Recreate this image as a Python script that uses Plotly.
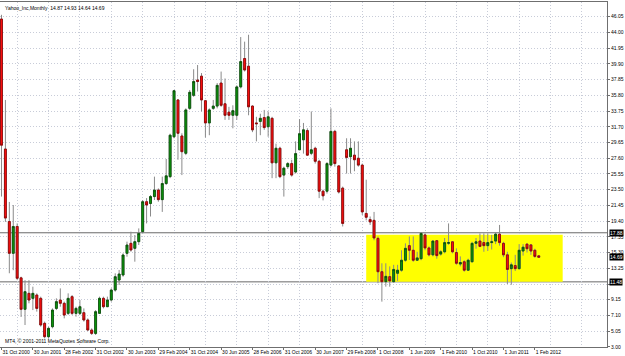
import plotly.graph_objects as go

# ---------------- data (Yahoo_Inc, Monthly, Oct 2000 .. Mar 2012) ----------------
opens = [
    45.75, 28.8, 19.35, 15.2, 18.7, 12.0, 7.9, 9.98, 9.33, 9.76,
    9.33, 6.07, 4.33, 5.63, 8.02, 9.11, 8.68, 7.37, 9.55, 7.37,
    7.37, 7.46, 6.51, 5.2, 4.76, 7.37, 9.33, 8.24, 9.11, 10.41,
    11.72, 12.37, 15.2, 16.5, 15.85, 16.72, 18.02, 21.93, 21.7, 22.6,
    23.45, 22.2, 24.3, 25.2, 30.4, 35.2, 30.5, 28.24, 34.1, 35.8,
    37.8, 38.3, 35.1, 32.2, 34.1, 34.4, 37.4, 34.7, 33.6, 33.2,
    33.2, 36.9, 40.6, 39.6, 34.4, 32.2, 32.4, 32.9, 31.7, 32.8,
    27.0, 28.9, 25.4, 26.5, 26.9, 25.8, 28.7, 30.0, 31.2, 28.24,
    28.9, 27.2, 23.3, 23.3, 26.7, 31.1, 26.6, 23.7, 28.7, 27.8,
    28.0, 27.6, 26.7, 20.4, 19.6, 19.5, 17.15, 12.8, 11.5, 12.16,
    11.5, 12.6, 13.0, 14.3, 16.2, 15.6, 14.3, 14.5, 17.6, 15.9,
    15.0, 16.85, 15.1, 15.4, 16.5, 16.7, 15.3, 13.8, 14.1, 13.0,
    14.1, 16.5, 16.8, 16.6, 16.2, 16.6, 16.8, 17.7, 16.5, 15.0,
    13.2, 13.6, 13.2, 15.5, 16.4, 16.3, 15.6, 14.87,
]
highs = [
    46.3, 35.2, 21.9, 21.5, 19.1, 12.15, 11.7, 11.7, 10.85, 9.98,
    9.55, 6.3, 5.63, 8.02, 9.33, 10.63, 8.9, 9.98, 9.76, 8.24,
    9.11, 8.02, 6.72, 5.42, 7.8, 9.55, 9.55, 9.55, 10.63, 12.59,
    13.03, 15.2, 16.72, 18.02, 17.59, 18.45, 22.15, 22.4, 22.8, 25.2,
    23.67, 25.2, 27.5, 30.8, 36.5, 35.3, 30.85, 34.1, 36.5, 39.2,
    39.75, 38.7, 35.2, 34.1, 35.2, 37.4, 38.9, 38.0, 34.3, 34.5,
    37.1, 43.4, 42.8, 43.7, 34.5, 33.0, 33.4, 33.9, 33.7, 33.0,
    29.5, 29.1, 26.5, 27.1, 27.4, 29.8, 32.7, 32.2, 31.5, 33.7,
    29.1, 27.4, 23.5, 27.1, 34.1, 31.3, 26.7, 23.9, 30.2, 30.2,
    29.8, 29.8, 26.9, 24.8, 20.0, 20.6, 17.4, 13.9, 13.9, 13.5,
    13.7, 13.7, 15.6, 16.5, 17.4, 17.4, 15.4, 17.9, 17.8, 16.1,
    16.9, 16.9, 15.6, 17.2, 19.1, 16.8, 15.85, 14.8, 14.3, 14.5,
    16.7, 17.2, 17.8, 17.8, 17.8, 17.6, 17.9, 18.9, 16.7, 15.4,
    14.0, 15.0, 16.4, 16.4, 16.5, 16.4, 15.8, 14.93,
]
lows = [
    22.6, 19.3, 12.6, 13.0, 11.7, 6.9, 5.85, 8.68, 7.8, 7.6,
    5.63, 4.11, 4.11, 5.42, 7.8, 8.24, 6.72, 7.15, 7.15, 6.94,
    7.15, 6.3, 5.1, 4.55, 4.55, 7.37, 8.02, 8.24, 8.9, 10.2,
    11.07, 12.15, 14.76, 15.41, 14.11, 16.28, 17.8, 19.1, 20.0, 22.15,
    21.93, 20.6, 24.1, 25.0, 30.2, 27.4, 25.4, 28.0, 33.9, 35.6,
    36.3, 33.7, 30.3, 30.6, 33.9, 34.1, 34.3, 32.6, 32.6, 31.5,
    32.6, 36.7, 38.9, 33.2, 31.0, 29.8, 30.6, 31.3, 30.4, 25.0,
    25.0, 25.0, 22.6, 26.2, 25.2, 25.6, 28.7, 28.2, 27.9, 28.0,
    26.9, 22.4, 22.1, 23.0, 26.5, 26.5, 23.0, 18.7, 25.6, 25.6,
    25.9, 26.5, 20.2, 19.5, 18.9, 16.9, 11.3, 8.9, 10.85, 10.85,
    11.4, 11.6, 12.8, 14.1, 14.33, 14.1, 14.3, 14.3, 15.6, 14.8,
    14.8, 14.5, 14.9, 15.2, 16.3, 15.2, 13.7, 13.5, 12.8, 12.9,
    14.0, 15.8, 16.0, 15.4, 15.5, 15.7, 16.4, 16.2, 14.7, 11.2,
    11.1, 12.9, 13.1, 14.9, 15.3, 15.0, 14.6, 14.64,
]
closes = [
    29.3, 19.8, 15.2, 18.7, 11.95, 7.9, 10.2, 9.11, 9.98, 8.02,
    5.85, 4.33, 5.42, 7.8, 8.9, 8.68, 7.15, 9.33, 7.37, 8.02,
    8.24, 6.51, 5.2, 4.76, 7.59, 9.33, 8.24, 9.11, 10.41, 12.15,
    12.5, 14.98, 16.28, 15.63, 16.72, 17.8, 21.93, 21.5, 22.6, 23.45,
    22.2, 24.3, 25.3, 30.6, 36.4, 30.85, 28.45, 33.9, 36.2, 37.6,
    37.6, 35.2, 32.2, 33.9, 34.4, 37.1, 34.5, 33.2, 33.2, 33.8,
    36.9, 40.2, 39.1, 34.3, 31.3, 32.1, 32.8, 31.6, 33.0, 27.0,
    28.9, 25.2, 26.3, 26.9, 25.4, 28.2, 30.8, 31.3, 28.0, 28.7,
    27.2, 23.3, 22.7, 26.9, 31.1, 26.9, 23.2, 19.1, 27.7, 28.9,
    27.4, 26.7, 20.6, 19.9, 19.3, 17.2, 12.8, 11.5, 12.2, 11.6,
    13.1, 13.0, 14.3, 15.85, 15.6, 14.3, 14.6, 17.8, 15.9, 15.0,
    16.8, 14.9, 15.4, 16.6, 16.6, 15.4, 13.9, 14.0, 13.0, 14.3,
    16.5, 16.7, 16.1, 16.2, 16.6, 16.7, 17.7, 16.6, 15.0, 13.1,
    13.7, 13.2, 15.6, 16.0, 15.8, 15.5, 14.8, 14.69,
]

x_label_pos = [0, 8, 16, 24, 32, 40, 48, 56, 64, 72, 80, 88, 96, 104, 112, 120, 128, 136]
x_labels = ["31 Oct 2000", "30 Jun 2001", "28 Feb 2002", "31 Oct 2002", "30 Jun 2003",
            "29 Feb 2004", "31 Oct 2004", "30 Jun 2005", "28 Feb 2006", "31 Oct 2006",
            "30 Jun 2007", "29 Feb 2008", "1 Oct 2008", "1 Jun 2009", "1 Feb 2010",
            "1 Oct 2010", "1 Jun 2011", "1 Feb 2012"]
x_grid_pos = [4, 12, 20, 28, 36, 44, 52, 60, 68, 76, 84, 92, 100, 108, 116, 124, 132, 140, 148]
y_ticks = [3.00, 5.05, 7.10, 9.15, 11.20, 13.25, 15.30, 17.35, 19.40, 21.45, 23.50,
           25.55, 27.60, 29.65, 31.70, 33.75, 35.80, 37.85, 39.90, 41.95, 44.00, 46.05]
# 11.20 is fully covered by the 11.48 price box in the reference, so it shows no text
y_tick_text = ["3.00", "5.05", "7.10", "9.15", "", "13.25", "15.30", "17.35", "19.40",
               "21.45", "23.50", "25.55", "27.60", "29.65", "31.70", "33.75", "35.80",
               "37.85", "39.90", "41.95", "44.00", "46.05"]
level_lines = [17.88, 11.48]
last_price = 14.69
zone_x = [93.0, 143.1]
zone_y = [11.48, 17.62]
title_text = "Yahoo_Inc,Monthly  14.87 14.93 14.64 14.69"
copyright_text = "MT4, \u00a9 2001-2011 MetaQuotes Software Corp."

# ---------------- styles ----------------
FONT = "Liberation Sans"
WICK = "#8a8a8a"
UP_FILL, UP_LINE = "#0b9a0b", "#064d06"
DN_FILL, DN_LINE = "#ff1010", "#8c0000"
GRID = "#c8ccd8"
FRAME = "#6f6f6f"

idx = list(range(len(opens)))
body_hi = [max(o, c) for o, c in zip(opens, closes)]
body_lo = [min(o, c) for o, c in zip(opens, closes)]

fig = go.Figure()
# wicks (gray)
fig.add_trace(go.Candlestick(
    x=idx, open=opens, high=highs, low=lows, close=closes,
    increasing=dict(line=dict(color=WICK, width=1), fillcolor=WICK),
    decreasing=dict(line=dict(color=WICK, width=1), fillcolor=WICK),
    whiskerwidth=0, hoverinfo="skip", showlegend=False))
# bodies
fig.add_trace(go.Candlestick(
    x=idx, open=opens, high=body_hi, low=body_lo, close=closes,
    increasing=dict(line=dict(color=UP_LINE, width=0.8), fillcolor=UP_FILL),
    decreasing=dict(line=dict(color=DN_LINE, width=0.8), fillcolor=DN_FILL),
    whiskerwidth=0, showlegend=False))

shapes = [dict(type="rect", xref="x", yref="y", x0=zone_x[0], x1=zone_x[1],
               y0=zone_y[0], y1=zone_y[1], fillcolor="#ffff00",
               line=dict(width=0), layer="between")]
for lv in level_lines:
    shapes.append(dict(type="line", xref="paper", yref="y", x0=0, x1=1, y0=lv, y1=lv,
                       line=dict(color="#6a6a6a", width=1), layer="between"))

annotations = [
    dict(text=title_text, xref="paper", yref="paper", x=0, y=1, xanchor="left",
         yanchor="top", xshift=3, yshift=-1, showarrow=False,
         font=dict(family=FONT, size=5, color="#000000")),
    dict(text=copyright_text, xref="paper", yref="paper", x=0, y=0, xanchor="left",
         yanchor="bottom", xshift=3, yshift=1, showarrow=False,
         font=dict(family=FONT, size=5, color="#000000")),
]
for lv in level_lines + [last_price]:
    annotations.append(dict(text="%.2f" % lv, xref="paper", yref="y", x=1, y=lv,
                            xanchor="left", yanchor="middle", xshift=2, showarrow=False,
                            bgcolor="#000000", borderpad=0,
                            font=dict(family=FONT, size=5, color="#ffffff")))

fig.update_layout(
    width=625, height=356,
    margin=dict(l=0, r=18, t=2, b=9),
    paper_bgcolor="#ffffff", plot_bgcolor="#ffffff",
    showlegend=False,
    shapes=shapes, annotations=annotations,
    xaxis=dict(range=[-0.38, 154.4], tickmode="array", tickvals=x_label_pos,
               ticktext=x_labels, ticklabelposition="outside right", tickangle=0,
               ticks="outside", ticklen=2, tickcolor=FRAME,
               showgrid=False, zeroline=False,
               showline=True, linecolor=FRAME, linewidth=1, mirror=True,
               tickfont=dict(family=FONT, size=5, color="#000000"),
               rangeslider=dict(visible=False),
               minor=dict(tickmode="array", tickvals=x_grid_pos, showgrid=True,
                          gridcolor=GRID, griddash="1px,2px", gridwidth=1, ticks="")),
    yaxis=dict(side="right", range=[2.985, 47.97], tickmode="array", tickvals=y_ticks,
               ticktext=y_tick_text, ticks="outside", ticklen=2, tickcolor=FRAME,
               showgrid=True, gridcolor=GRID, griddash="1px,2px", gridwidth=1,
               zeroline=False, showline=True, linecolor=FRAME, linewidth=1, mirror=True,
               tickfont=dict(family=FONT, size=5, color="#000000")),
)

fig.write_html("out.html")
